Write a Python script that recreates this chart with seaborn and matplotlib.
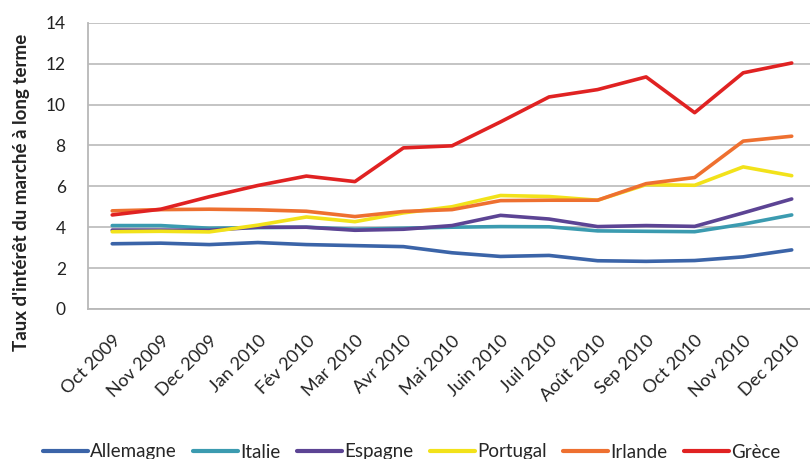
import matplotlib
matplotlib.use("Agg")
import matplotlib.pyplot as plt
import seaborn as sns
import pandas as pd
import numpy as np

months = ["Oct 2009", "Nov 2009", "Dec 2009", "Jan 2010", "Fév 2010", "Mar 2010",
          "Avr 2010", "Mai 2010", "Juin 2010", "Juil 2010", "Août 2010", "Sep 2010",
          "Oct 2010", "Nov 2010", "Dec 2010"]

allemagne = [3.19, 3.22, 3.15, 3.25, 3.15, 3.10, 3.05, 2.75, 2.57, 2.62, 2.36, 2.33, 2.37, 2.55, 2.89]
italie    = [4.08, 4.08, 3.95, 3.98, 4.00, 3.90, 3.95, 4.00, 4.03, 4.02, 3.82, 3.80, 3.78, 4.15, 4.60]
espagne   = [3.86, 3.86, 3.85, 4.00, 4.00, 3.85, 3.90, 4.08, 4.58, 4.40, 4.03, 4.08, 4.04, 4.70, 5.38]
portugal  = [3.78, 3.80, 3.77, 4.10, 4.50, 4.27, 4.70, 5.00, 5.55, 5.50, 5.32, 6.08, 6.05, 6.95, 6.52]
irlande   = [4.80, 4.86, 4.88, 4.85, 4.78, 4.52, 4.77, 4.86, 5.30, 5.32, 5.32, 6.13, 6.43, 8.21, 8.45]
grece     = [4.60, 4.88, 5.49, 6.04, 6.50, 6.23, 7.88, 7.98, 9.15, 10.37, 10.73, 11.35, 9.60, 11.55, 12.03]

countries = ["Allemagne", "Italie", "Espagne", "Portugal", "Irlande", "Grèce"]
series = [allemagne, italie, espagne, portugal, irlande, grece]
palette = {
    "Allemagne": "#3b64a8",
    "Italie": "#3b9bb0",
    "Espagne": "#5c4494",
    "Portugal": "#f2e21a",
    "Irlande": "#ee7030",
    "Grèce": "#e02222",
}

rows = []
for name, vals in zip(countries, series):
    for i, v in enumerate(vals):
        rows.append({"idx": i, "taux": v, "pays": name})
df = pd.DataFrame(rows)

sns.set_style("white")
plt.rcParams["font.family"] = ["Lato", "DejaVu Sans"]

fig = plt.figure(figsize=(8.1, 4.59), dpi=100)
ax = fig.add_axes([0.1086, 0.3268, 0.8988, 0.6237])

sns.lineplot(data=df, x="idx", y="taux", hue="pays", hue_order=countries,
             palette=palette, linewidth=2.6, sort=False, ax=ax, legend=False)

ax.set_xlim(-0.5, len(months) - 0.5)
ax.set_ylim(0, 14)
ax.set_yticks(np.arange(0, 15, 2))
ax.yaxis.grid(True, color="#c4c4c4", linewidth=1.4)
ax.set_axisbelow(True)

ax.set_xticks(range(len(months)))
ax.set_xticklabels(months, rotation=45, ha="right", rotation_mode="anchor", fontsize=13, color="#222222")
ax.set_xticks(np.arange(-0.5, len(months), 1), minor=True)
ax.tick_params(axis="x", which="major", length=0, pad=17)
ax.tick_params(axis="x", which="minor", length=5, color="#b0b0b0", width=1.2, direction="out")
ax.tick_params(axis="y", length=6, color="#b0b0b0", width=1.2, direction="out", labelsize=12.5, labelcolor="#222222", pad=10)

for side in ["top", "right"]:
    ax.spines[side].set_visible(False)
for side in ["left", "bottom"]:
    ax.spines[side].set_color("#b8b8b8")
    ax.spines[side].set_linewidth(1.3)

ax.set_xlabel("")
ax.set_ylabel("")
fig.text(22 / 810, 1 - 192 / 459, "Taux d'intérêt du marché à long terme", rotation=90,
         ha="center", va="center", fontsize=13.5, fontweight="bold", color="#222222")

handles = [plt.Line2D([], [], color=palette[c], linewidth=3) for c in countries]
fig.legend(handles, countries, loc="center", bbox_to_anchor=(0.508, 1 - 452 / 459), ncol=6,
           frameon=False, fontsize=13.5, handlelength=2.4, handletextpad=0.1, columnspacing=0.9,
           borderaxespad=0, borderpad=0)

fig.savefig("out.png", dpi=100)
